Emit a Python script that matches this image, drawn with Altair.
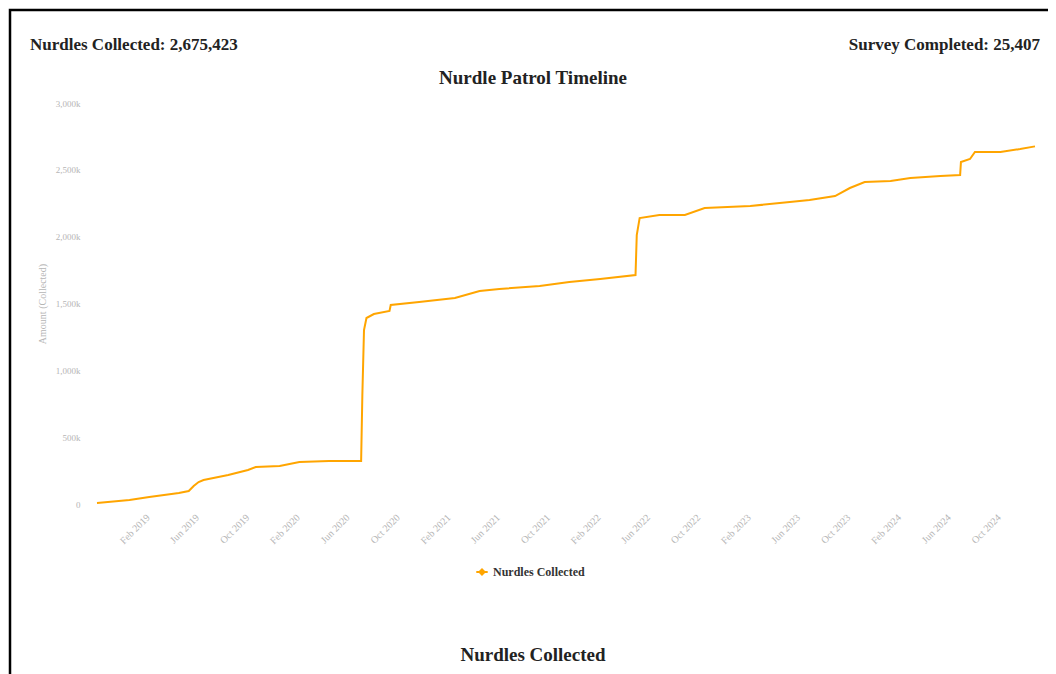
import altair as alt
import pandas as pd

# ---- data ----
dates = [
    "2018-10-09", "2018-12-27", "2019-02-13", "2019-04-26", "2019-05-20", "2019-06-01",
    "2019-06-13", "2019-06-25", "2019-08-24", "2019-10-11", "2019-10-30", "2019-12-27",
    "2020-02-13", "2020-04-25", "2020-07-12", "2020-07-15", "2020-07-19", "2020-07-25",
    "2020-08-12", "2020-09-19", "2020-09-22", "2020-11-30", "2021-02-25", "2021-04-26",
    "2021-06-13", "2021-09-19", "2021-11-30", "2022-02-13", "2022-05-10", "2022-05-13",
    "2022-05-20", "2022-07-07", "2022-09-07", "2022-10-25", "2023-02-13", "2023-05-20",
    "2023-07-07", "2023-09-07", "2023-10-13", "2023-11-18", "2024-01-20", "2024-03-08",
    "2024-05-20", "2024-07-07", "2024-07-09", "2024-07-31", "2024-08-12", "2024-10-13",
    "2024-11-30", "2025-01-05",
]
cumulative = [
    7481, 29924, 52367, 82291, 97253, 134658,
    164582, 179544, 216949, 254354, 276797, 284278,
    314202, 321683, 321683, 815429, 1301694, 1391466,
    1421390, 1443833, 1488719, 1511162, 1541086, 1593453,
    1608415, 1630858, 1660782, 1683225, 1713149, 2012389,
    2139566, 2162009, 2162009, 2214376, 2229338, 2259262,
    2274224, 2304148, 2363996, 2408882, 2416363, 2438806,
    2453768, 2461249, 2558502, 2580945, 2633312, 2633312,
    2655755, 2675423,
]
tick_months = [
    (2019, 2), (2019, 6), (2019, 10), (2020, 2), (2020, 6), (2020, 10),
    (2021, 2), (2021, 6), (2021, 10), (2022, 2), (2022, 6), (2022, 10),
    (2023, 2), (2023, 6), (2023, 10), (2024, 2), (2024, 6), (2024, 10),
]
y_ticks = [0, 500000, 1000000, 1500000, 2000000, 2500000, 3000000]
series_name = "Nurdles Collected"
total_nurdles = 2675423
surveys_completed = 25407
chart_title = "Nurdle Patrol Timeline"
next_title = "Nurdles Collected"

ORANGE = "#FFA500"
FONT = "Liberation Serif"
LIGHT = "#b5b5b5"

df = pd.DataFrame({"date": dates, "amount": cumulative, "series": series_name})

tick_values = [alt.DateTime(year=y, month=m, date=1, utc=True) for y, m in tick_months]

line = alt.Chart(df).mark_line(strokeWidth=2, interpolate="linear").encode(
    x=alt.X(
        "date:T",
        scale=alt.Scale(
            type="utc",
            domain=[alt.DateTime(year=2018, month=10, date=9, utc=True),
                    alt.DateTime(year=2025, month=1, date=5, utc=True)],
        ),
        axis=alt.Axis(
            values=tick_values, format="%b %Y", labelAngle=-45, labelAlign="right",
            labelBaseline="top", labelFont=FONT, labelFontSize=10, labelColor=LIGHT,
            domain=False, ticks=False, grid=False, labelPadding=8, title=None,
        ),
    ),
    y=alt.Y(
        "amount:Q",
        scale=alt.Scale(domain=[0, 3000000], nice=False),
        axis=alt.Axis(
            values=y_ticks,
            labelExpr="datum.value == 0 ? '0' : format(datum.value / 1000, ',') + 'k'",
            labelFont=FONT, labelFontSize=9, labelColor=LIGHT, labelPadding=17,
            domain=False, ticks=False, grid=False,
            title="Amount (Collected)", titleFont=FONT, titleFontSize=10,
            titleFontWeight="normal", titleColor=LIGHT, titlePadding=8,
        ),
    ),
    color=alt.Color(
        "series:N",
        scale=alt.Scale(range=[ORANGE]),
        legend=alt.Legend(
            orient="none", legendX=378, legendY=462, title=None,
            symbolType="M-1,0L1,0M-0.45,0L0,-0.45L0.45,0L0,0.45Z",
            symbolSize=130, symbolStrokeWidth=2, symbolFillColor=ORANGE,
            labelFont=FONT, labelFontSize=12, labelFontWeight="bold", labelColor="#333",
        ),
    ),
)

border = alt.Chart(pd.DataFrame({"a": [0]})).mark_rect(
    fill=None, stroke="black", strokeWidth=2.5
).encode(x=alt.value(-87), x2=alt.value(955), y=alt.value(-93), y2=alt.value(600))

def label(text, x, y, align, size):
    return alt.Chart(pd.DataFrame({"t": [text]})).mark_text(
        align=align, baseline="middle", font=FONT, fontSize=size,
        fontWeight="bold", color="#222",
    ).encode(x=alt.value(x), y=alt.value(y), text="t:N")

left_txt = label(f"Nurdles Collected: {total_nurdles:,}", -67, -58, "left", 17)
right_txt = label(f"Survey Completed: {surveys_completed:,}", 943, -58, "right", 17)
title_txt = label(chart_title, 436, -25, "center", 19)
bottom_txt = label(next_title, 436, 552, "center", 19)

chart = alt.layer(border, line, left_txt, right_txt, title_txt, bottom_txt).properties(
    width=938, height=401,
    background="white",
    autosize=alt.AutoSizeParams(type="none"),
    padding={"left": 89, "top": 95, "right": 13, "bottom": 170},
).configure_view(stroke=None)

chart.save("out.html", embed_options={"renderer": "svg", "actions": False})
